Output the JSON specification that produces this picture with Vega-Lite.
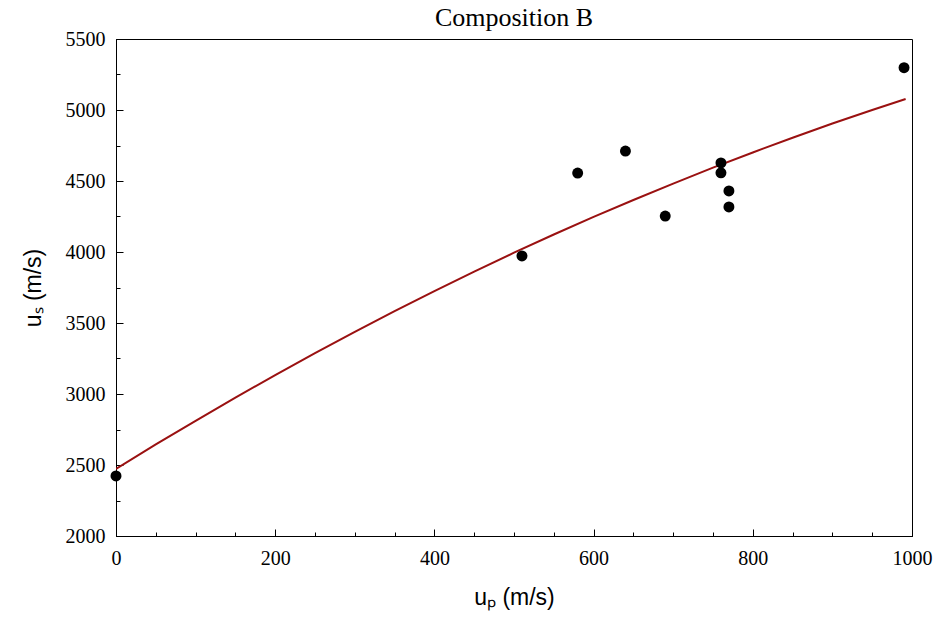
{
  "$schema": "https://vega.github.io/schema/vega-lite/v6.json",
  "width": 796,
  "height": 497,
  "autosize": {"type": "none"},
  "padding": {"left": 116, "top": 39, "right": 25, "bottom": 85},
  "background": "white",
  "title": {
    "text": "Composition B",
    "font": "Liberation Serif",
    "fontSize": 26,
    "fontWeight": "normal",
    "color": "black",
    "frame": "group",
    "anchor": "middle",
    "offset": -2
  },
  "config": {
    "view": {"stroke": "black", "strokeWidth": 1},
    "axis": {
      "grid": false,
      "domainColor": "black",
      "tickColor": "black",
      "labelColor": "black",
      "titleColor": "black",
      "labelFont": "Liberation Serif",
      "labelFontSize": 20,
      "labelFlush": false,
      "labelOverlap": false,
      "format": "d",
      "titleFont": "Liberation Sans",
      "titleFontSize": 23,
      "titleFontWeight": "normal"
    }
  },
  "datasets": {
    "pts": [
      {"up": 0, "us": 2423},
      {"up": 510, "us": 3972},
      {"up": 580, "us": 4556},
      {"up": 640, "us": 4711},
      {"up": 690, "us": 4253},
      {"up": 760, "us": 4627},
      {"up": 760, "us": 4558},
      {"up": 770, "us": 4430},
      {"up": 770, "us": 4317},
      {"up": 990, "us": 5298}
    ],
    "fit": [
      {"up": 0, "us": 2472},
      {"up": 50, "us": 2645},
      {"up": 100, "us": 2811},
      {"up": 150, "us": 2975},
      {"up": 200, "us": 3133},
      {"up": 250, "us": 3287},
      {"up": 300, "us": 3437},
      {"up": 350, "us": 3583},
      {"up": 400, "us": 3725},
      {"up": 450, "us": 3862},
      {"up": 500, "us": 3995},
      {"up": 550, "us": 4123},
      {"up": 600, "us": 4247},
      {"up": 650, "us": 4366},
      {"up": 700, "us": 4482},
      {"up": 750, "us": 4594},
      {"up": 800, "us": 4701},
      {"up": 850, "us": 4805},
      {"up": 900, "us": 4905},
      {"up": 950, "us": 5000},
      {"up": 992, "us": 5077}
    ]
  },
  "layer": [
    {
      "data": {"name": "fit"},
      "mark": {"type": "line", "color": "#9a1111", "strokeWidth": 2, "clip": true},
      "encoding": {
        "x": {
          "field": "up", "type": "quantitative",
          "scale": {"domain": [0, 1000], "nice": false, "zero": false},
          "axis": {
            "orient": "bottom",
            "values": [0, 50, 100, 150, 200, 250, 300, 350, 400, 450, 500, 550, 600, 650, 700, 750, 800, 850, 900, 950, 1000],
            "labels": false, "tickSize": -4, "title": null
          }
        },
        "y": {
          "field": "us", "type": "quantitative",
          "scale": {"domain": [2000, 5500], "nice": false, "zero": false},
          "axis": {
            "orient": "left",
            "values": [2000, 2250, 2500, 2750, 3000, 3250, 3500, 3750, 4000, 4250, 4500, 4750, 5000, 5250, 5500],
            "labels": false, "tickSize": -4, "title": null
          }
        }
      }
    },
    {
      "data": {"name": "pts"},
      "mark": {"type": "circle", "color": "black", "opacity": 1, "size": 120},
      "encoding": {
        "x": {
          "field": "up", "type": "quantitative",
          "axis": {
            "orient": "bottom",
            "values": [0, 200, 400, 600, 800, 1000],
            "tickSize": -7, "labelPadding": 19,
            "title": "uₚ (m/s)", "titlePadding": 18
          }
        },
        "y": {
          "field": "us", "type": "quantitative",
          "axis": {
            "orient": "left",
            "values": [2000, 2500, 3000, 3500, 4000, 4500, 5000, 5500],
            "tickSize": -7, "labelPadding": 18,
            "title": "uₛ (m/s)", "titlePadding": 20
          }
        }
      }
    }
  ],
  "resolve": {"axis": {"x": "independent", "y": "independent"}}
}
